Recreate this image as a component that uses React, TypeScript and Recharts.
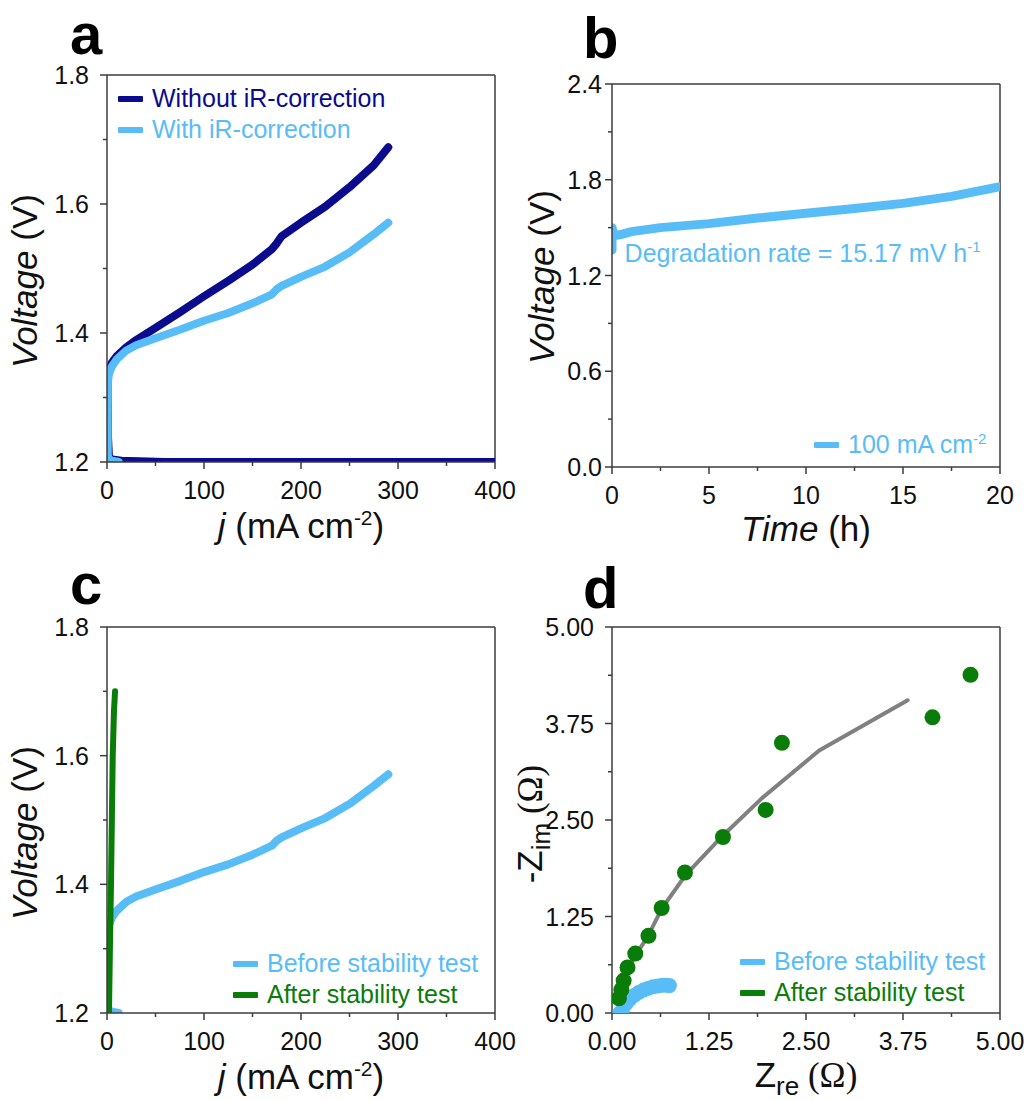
import React from "react";
import {
  ComposedChart, Line, Scatter, XAxis, YAxis, Legend, ReferenceLine, ReferenceDot,
} from "recharts";

const FONT = "'Liberation Sans', Arial, Helvetica, sans-serif";
const SERIF = "'Liberation Serif', 'Times New Roman', serif";
const AXIS = "#3d3d3d";
const INK = "#111";
const NAVY = "#0b0b8d";
const SKY = "#58bdf6";
const GREEN = "#0a7c0a";
const GRAY = "#808080";

// a / c : polarization curves, j (mA cm-2) vs V
const noIRCurve = [
  [400, 1.2], [200, 1.2], [60, 1.2], [15, 1.202], [5, 1.204], [2, 1.208], [1, 1.24], [1, 1.3],
  [1, 1.332], [2, 1.343], [5, 1.354], [10, 1.364], [20, 1.378], [30, 1.389], [50, 1.408],
  [75, 1.432], [100, 1.457], [125, 1.481], [150, 1.506], [170, 1.53], [175, 1.539], [180, 1.55],
  [200, 1.571], [225, 1.596], [250, 1.626], [275, 1.66], [290, 1.688],
];
const withIRCurve = [
  [12, 1.2], [5, 1.202], [2, 1.205], [0.8, 1.21], [0.8, 1.264], [1, 1.324], [2, 1.337],
  [5, 1.348], [10, 1.359], [20, 1.373], [30, 1.381], [50, 1.392], [75, 1.405], [100, 1.419],
  [125, 1.431], [150, 1.446], [170, 1.46], [175, 1.468], [180, 1.473], [200, 1.487],
  [225, 1.503], [250, 1.525], [275, 1.553], [290, 1.571],
];
const afterStabCurve = [
  [2, 1.2], [3, 1.3], [4.1, 1.4], [5, 1.5], [5.9, 1.6], [7.2, 1.67], [8.3, 1.7],
];

// b : chronopotentiometry, time (h) vs V
const stabilityCurve = [
  [0, 1.36], [0, 1.5], [0.1, 1.45], [0.4, 1.455], [1, 1.475], [2.5, 1.5], [5, 1.525],
  [7.5, 1.56], [10, 1.59], [12.5, 1.62], [15, 1.652], [17.5, 1.696], [20, 1.757],
];

// d : Nyquist plots
const beforeEis = [
  [0.1, 0.0], [0.14, 0.06], [0.18, 0.12], [0.23, 0.18], [0.29, 0.23], [0.35, 0.27], [0.41, 0.3],
  [0.47, 0.32], [0.53, 0.34], [0.59, 0.35], [0.65, 0.36], [0.7, 0.36], [0.74, 0.355],
];
const beforeFit = [
  [0.15, 0.0], [0.2, 0.1], [0.27, 0.19], [0.35, 0.26], [0.45, 0.32], [0.55, 0.355], [0.65, 0.37], [0.7, 0.375],
];
const afterEis = [
  [0.09, 0.19], [0.12, 0.3], [0.15, 0.42], [0.2, 0.59], [0.3, 0.77], [0.47, 1.0], [0.64, 1.36],
  [0.94, 1.82], [1.43, 2.28], [1.98, 2.63], [2.19, 3.5], [4.13, 3.83], [4.62, 4.38],
];
const afterFit = [
  [0.1, 0.15], [0.16, 0.44], [0.28, 0.71], [0.46, 0.99], [0.64, 1.35], [0.95, 1.79],
  [1.43, 2.3], [1.94, 2.79], [2.67, 3.4], [3.81, 4.05],
];

// ticks
const jTicks = [0, 50, 100, 150, 200, 250, 300, 350, 400];
const jMajor = [0, 100, 200, 300, 400];
const vTicks = [1.2, 1.3, 1.4, 1.5, 1.6, 1.7, 1.8];
const vMajor = [1.2, 1.4, 1.6, 1.8];
const tTicks = [0, 2.5, 5, 7.5, 10, 12.5, 15, 17.5, 20];
const tMajor = [0, 5, 10, 15, 20];
const bvTicks = [0, 0.3, 0.6, 0.9, 1.2, 1.5, 1.8, 2.1, 2.4];
const bvMajor = [0, 0.6, 1.2, 1.8, 2.4];
const zTicks = [0, 0.625, 1.25, 1.875, 2.5, 3.125, 3.75, 4.375, 5];
const zMajor = [0, 1.25, 2.5, 3.75, 5];

const aNames = ["Without iR-correction", "With iR-correction"];
const cNames = ["Before stability test", "After stability test"];

const pts = (rows: number[][]) => rows.map(([x, y]) => ({ x, y }));

const TICK_FS = 25;
const TITLE_FS = 35;

const xTick = (major: number[], digits: number) => (p: any) => {
  const on = major.includes(p.payload.value);
  return (
    <g>
      <line x1={p.x} x2={p.x} y1={p.y} y2={p.y + (on ? 7 : 4)} stroke={AXIS} strokeWidth={1.5} />
      {on && (
        <text x={p.x} y={p.y + 37} textAnchor="middle" fontSize={TICK_FS} fontFamily={FONT} fill={INK}>
          {p.payload.value.toFixed(digits)}
        </text>
      )}
    </g>
  );
};

const yTick = (major: number[], digits: number, gap: number) => (p: any) => {
  const on = major.includes(p.payload.value);
  return (
    <g>
      <line x1={p.x} x2={p.x - (on ? 7 : 4)} y1={p.y} y2={p.y} stroke={AXIS} strokeWidth={1.5} />
      {on && (
        <text x={p.x - gap} y={p.y + 9} textAnchor="end" fontSize={TICK_FS} fontFamily={FONT} fill={INK}>
          {p.payload.value.toFixed(digits)}
        </text>
      )}
    </g>
  );
};

const xTitle = (cx: number, by: number, body: React.ReactNode) => () => (
  <text x={cx} y={by} textAnchor="middle" fontSize={TITLE_FS} fontFamily={FONT} fill={INK}>{body}</text>
);
const yTitle = (bx: number, cy: number, body: React.ReactNode) => () => (
  <text x={bx} y={cy} transform={`rotate(-90 ${bx} ${cy})`} textAnchor="middle" fontSize={TITLE_FS} fontFamily={FONT} fill={INK}>
    {body}
  </text>
);

const jTitle = (
  <>
    <tspan fontStyle="italic">j</tspan>
    <tspan> (mA cm</tspan>
    <tspan dy={-13} fontSize={21}>-2</tspan>
    <tspan dy={13}>)</tspan>
  </>
);
const voltTitle = (
  <>
    <tspan fontStyle="italic">Voltage</tspan>
    <tspan> (V)</tspan>
  </>
);

const LegendBox = ({ items }: { items: { label: React.ReactNode; color: string }[] }) => (
  <div style={{ fontFamily: FONT, fontSize: 25, lineHeight: "31px" }}>
    {items.map((it, i) => (
      <div key={i} style={{ display: "flex", alignItems: "center", color: it.color, whiteSpace: "nowrap" }}>
        <span style={{ width: 25, height: 6, background: it.color, marginRight: 9, borderRadius: 1 }} />
        <span>{it.label}</span>
      </div>
    ))}
  </div>
);

const legendProps = { layout: "vertical" as const, align: "center" as const, verticalAlign: "middle" as const };
const lineStyle = { dot: false, isAnimationActive: false, strokeLinecap: "round" as const, strokeLinejoin: "round" as const };
const axisLine = { stroke: AXIS, strokeWidth: 1.5 };

const WL = 540; // left column charts (a, c)
const WR = 519; // right column charts (b, d)
const H = 550;
const AX = 60; // room reserved for each axis

const PanelA = () => (
  <ComposedChart width={WL} height={H} margin={{ top: 75, left: 107 - AX, right: WL - 495, bottom: H - 462 - AX }}>
    <XAxis dataKey="x" type="number" domain={[0, 400]} ticks={jTicks} interval={0} allowDataOverflow
      height={AX} tickSize={0} tickMargin={0} tickLine={false} axisLine={axisLine}
      tick={xTick(jMajor, 0)} label={xTitle(301, 538, jTitle)} />
    <YAxis dataKey="y" type="number" domain={[1.2, 1.8]} ticks={vTicks} interval={0} allowDataOverflow
      width={AX} tickSize={0} tickMargin={0} tickLine={false} axisLine={axisLine}
      tick={yTick(vMajor, 1, 18)} label={yTitle(37, 281, voltTitle)} />
    <ReferenceLine y={1.8} stroke={AXIS} strokeWidth={1.5} />
    <ReferenceLine x={400} stroke={AXIS} strokeWidth={1.5} />
    <Line data={pts(noIRCurve)} dataKey="y" name={aNames[0]} stroke={NAVY} strokeWidth={8} {...lineStyle} />
    <Line data={pts(withIRCurve)} dataKey="y" name={aNames[1]} stroke={SKY} strokeWidth={8} {...lineStyle} />
    <Legend {...legendProps} wrapperStyle={{ left: 118, top: 83, width: "auto" }}
      content={() => <LegendBox items={[{ label: aNames[0], color: NAVY }, { label: aNames[1], color: SKY }]} />} />
  </ComposedChart>
);

const PanelB = () => (
  <ComposedChart width={WR} height={H} margin={{ top: 84, left: 102 - AX, right: WR - 490, bottom: H - 467 - AX }}>
    <XAxis dataKey="x" type="number" domain={[0, 20]} ticks={tTicks} interval={0} allowDataOverflow
      height={AX} tickSize={0} tickMargin={0} tickLine={false} axisLine={axisLine}
      tick={xTick(tMajor, 0)}
      label={xTitle(296, 541, <><tspan fontStyle="italic">Time</tspan><tspan> (h)</tspan></>)} />
    <YAxis dataKey="y" type="number" domain={[0, 2.4]} ticks={bvTicks} interval={0} allowDataOverflow
      width={AX} tickSize={0} tickMargin={0} tickLine={false} axisLine={axisLine}
      tick={yTick(bvMajor, 1, 10)} label={yTitle(44, 277, voltTitle)} />
    <ReferenceLine y={2.4} stroke={AXIS} strokeWidth={1.5} />
    <ReferenceLine x={20} stroke={AXIS} strokeWidth={1.5} />
    <Line data={pts(stabilityCurve)} dataKey="y" name="100 mA cm-2" stroke={SKY} strokeWidth={9} {...lineStyle} />
    <ReferenceDot x={0.65} y={1.285} r={0} fill="none" stroke="none"
      label={(p: any) => (
        <text x={p.viewBox.x} y={p.viewBox.y} fontSize={25} fontFamily={FONT} fill={SKY}>
          Degradation rate = 15.17 mV h<tspan dy={-10} fontSize={15}>-1</tspan>
        </text>
      )} />
    <Legend {...legendProps} wrapperStyle={{ left: 304, top: 429, width: "auto" }}
      content={() => (
        <LegendBox items={[{
          label: <>100 mA cm<sup style={{ fontSize: 15, lineHeight: 0 }}>-2</sup></>, color: SKY,
        }]} />
      )} />
  </ComposedChart>
);

const PanelC = () => (
  <ComposedChart width={WL} height={H} margin={{ top: 77, left: 107 - AX, right: WL - 495, bottom: H - 463 - AX }}>
    <XAxis dataKey="x" type="number" domain={[0, 400]} ticks={jTicks} interval={0} allowDataOverflow
      height={AX} tickSize={0} tickMargin={0} tickLine={false} axisLine={axisLine}
      tick={xTick(jMajor, 0)} label={xTitle(301, 539, jTitle)} />
    <YAxis dataKey="y" type="number" domain={[1.2, 1.8]} ticks={vTicks} interval={0} allowDataOverflow
      width={AX} tickSize={0} tickMargin={0} tickLine={false} axisLine={axisLine}
      tick={yTick(vMajor, 1, 18)} label={yTitle(37, 283, voltTitle)} />
    <ReferenceLine y={1.8} stroke={AXIS} strokeWidth={1.5} />
    <ReferenceLine x={400} stroke={AXIS} strokeWidth={1.5} />
    <Line data={pts(withIRCurve)} dataKey="y" name={cNames[0]} stroke={SKY} strokeWidth={8} {...lineStyle} />
    <Line data={pts(afterStabCurve)} dataKey="y" name={cNames[1]} stroke={GREEN} strokeWidth={6} {...lineStyle} />
    <Legend {...legendProps} wrapperStyle={{ left: 233, top: 398, width: "auto" }}
      content={() => <LegendBox items={[{ label: cNames[0], color: SKY }, { label: cNames[1], color: GREEN }]} />} />
  </ComposedChart>
);

const dot = (color: string, r: number) => (p: any) => <circle cx={p.cx} cy={p.cy} r={r} fill={color} />;

const PanelD = () => (
  <ComposedChart width={WR} height={H} margin={{ top: 77, left: 102 - AX, right: WR - 490, bottom: H - 463 - AX }}>
    <XAxis dataKey="x" type="number" domain={[0, 5]} ticks={zTicks} interval={0} allowDataOverflow
      height={AX} tickSize={0} tickMargin={0} tickLine={false} axisLine={axisLine}
      tick={xTick(zMajor, 2)}
      label={xTitle(296, 537, <>Z<tspan dy={8} fontSize={26}>re</tspan><tspan dy={-8} fontFamily={SERIF}> (Ω)</tspan></>)} />
    <YAxis dataKey="y" type="number" domain={[0, 5]} ticks={zTicks} interval={0} allowDataOverflow
      width={AX} tickSize={0} tickMargin={0} tickLine={false} axisLine={axisLine}
      tick={yTick(zMajor, 2, 18)}
      label={yTitle(32, 274, <>-Z<tspan dy={8} fontSize={26}>im</tspan><tspan dy={-8} fontFamily={SERIF}> (Ω)</tspan></>)} />
    <ReferenceLine y={5} stroke={AXIS} strokeWidth={1.5} />
    <ReferenceLine x={5} stroke={AXIS} strokeWidth={1.5} />
    <Scatter data={pts(beforeEis)} name={cNames[0]} fill={SKY} shape={dot(SKY, 7.5)} isAnimationActive={false} />
    <Line data={pts(beforeFit)} dataKey="y" stroke={GRAY} strokeWidth={4} legendType="none" {...lineStyle} />
    <Line data={pts(afterFit)} dataKey="y" stroke={GRAY} strokeWidth={4} legendType="none" {...lineStyle} />
    <Scatter data={pts(afterEis)} name={cNames[1]} fill={GREEN} shape={dot(GREEN, 8)} isAnimationActive={false} />
    <Legend {...legendProps} wrapperStyle={{ left: 230, top: 396, width: "auto" }}
      content={() => <LegendBox items={[{ label: cNames[0], color: SKY }, { label: cNames[1], color: GREEN }]} />} />
  </ComposedChart>
);

const panelLetters = [
  { t: "a", x: 70, y: 54 },
  { t: "b", x: 583, y: 58 },
  { t: "c", x: 70, y: 604 },
  { t: "d", x: 583, y: 608 },
];

export default function App() {
  return (
    <div style={{ position: "absolute", left: 0, top: 0, width: 1029, height: 1101, background: "#fff", fontFamily: FONT }}>
      <div style={{ position: "absolute", left: 0, top: 0 }}><PanelA /></div>
      <div style={{ position: "absolute", left: 510, top: 0 }}><PanelB /></div>
      <div style={{ position: "absolute", left: 0, top: 550 }}><PanelC /></div>
      <div style={{ position: "absolute", left: 510, top: 550 }}><PanelD /></div>
      <svg width={1029} height={1101} style={{ position: "absolute", left: 0, top: 0, pointerEvents: "none" }}>
        {panelLetters.map((l) => (
          <text key={l.t} x={l.x} y={l.y} fontSize={58} fontWeight="bold" fontFamily={FONT} fill="#000">{l.t}</text>
        ))}
      </svg>
    </div>
  );
}
